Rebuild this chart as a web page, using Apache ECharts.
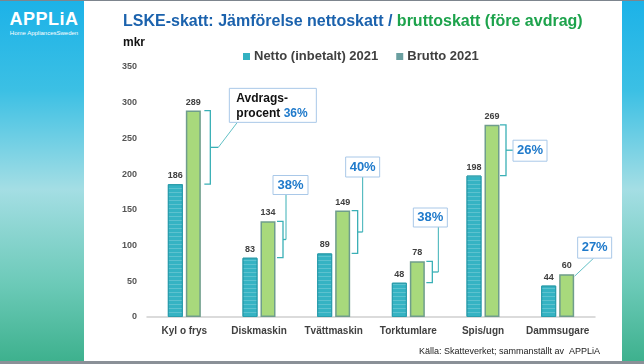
<!DOCTYPE html>
<html>
<head>
<meta charset="utf-8">
<script src="https://cdn.jsdelivr.net/npm/echarts@6/dist/echarts.min.js"></script>
<style>
  html, body { margin: 0; padding: 0; width: 644px; height: 364px; overflow: hidden; background: #ffffff; font-family: "Liberation Sans", Arial, sans-serif; }
  .side { position: absolute; top: 0; height: 364px; background: linear-gradient(to bottom, #1cb2e8 0%, #3cc0e4 25%, #a4dee4 52%, #6ccab8 78%, #3cb08c 100%); }
  #left { left: 0; width: 84px; }
  #right { left: 622px; width: 22px; }
  #topline { position: absolute; left: 0; top: 0; width: 644px; height: 1px; background: #7d858e; }
  #botline { position: absolute; left: 0; top: 361px; width: 644px; height: 3px; background: #8a9097; }
  #logo { position: absolute; left: 4px; top: 10px; width: 80px; color: #fff; text-align: center; }
  #logo .big { font: bold 18px "Liberation Sans", Arial, sans-serif; letter-spacing: 0.5px; line-height: 19px; }
  #logo .small { font: 6px "Liberation Sans", Arial, sans-serif; line-height: 8px; white-space: nowrap; }
  #chart { position: absolute; left: 0; top: 0; width: 644px; height: 364px; }
</style>
</head>
<body>
<div class="side" id="left"></div>
<div class="side" id="right"></div>
<div id="topline"></div>
<div id="botline"></div>
<div id="logo"><div class="big">APPLiA</div><div class="small">Home AppliancesSweden</div></div>
<div id="chart"></div>
<script>
// ---- data ----
const categories = ['Kyl o frys', 'Diskmaskin', 'Tvättmaskin', 'Torktumlare', 'Spis/ugn', 'Dammsugare'];
const nettoValues = [186, 83, 89, 48, 198, 44];
const bruttoValues = [289, 134, 149, 78, 269, 60];
const deductionPercent = ['36%', '38%', '40%', '38%', '26%', '27%'];
const yTicks = [0, 50, 100, 150, 200, 250, 300, 350];
const seriesNames = ['Netto (inbetalt) 2021', 'Brutto 2021'];

// ---- callout layout (annotation placement, relative to bracket anchor) ----
const calloutLayout = [
  { type: 'bracket', bx: 26, tick: 8, box: [11, -59, 87, 34], leader: 'diag', to: [19, -25] },
  { type: 'bracket', bx: 24, tick: 3, box: [-13, -64, 35, 19], leader: 'up' },
  { type: 'bracket', bx: 24, tick: 5, box: [-17, -75, 34, 20], leader: 'up' },
  { type: 'bracket', bx: 24, tick: 6, box: [-25, -64, 34, 19], leader: 'up' },
  { type: 'bracket', bx: 23, tick: 7, box: [0, -10, 34, 21], leader: 'none' },
  { type: 'leader', bx: 19, tick: 0, box: [3, -39, 34, 21], leader: 'diag', to: [19, -18] }
];

const chart = echarts.init(document.getElementById('chart'), null, { renderer: 'canvas' });

const labelStyle = { show: true, position: 'top', distance: 4, color: '#404040', fontWeight: 'bold', fontSize: 9, fontFamily: 'Liberation Sans' };

chart.setOption({
  backgroundColor: 'transparent',
  animation: false,
  title: {
    left: 118, top: 9,
    text: '{b|LSKE-skatt: Jämförelse nettoskatt / }{g|bruttoskatt (före avdrag)}',
    textStyle: {
      rich: {
        b: { color: '#1b62ad', fontWeight: 'bold', fontSize: 16, fontFamily: 'Liberation Sans' },
        g: { color: '#1da34c', fontWeight: 'bold', fontSize: 16, fontFamily: 'Liberation Sans' }
      }
    }
  },
  legend: {
    left: 238, top: 45,
    icon: 'rect', itemWidth: 7, itemHeight: 7, itemGap: 18,
    textStyle: { color: '#404040', fontWeight: 'bold', fontSize: 13, fontFamily: 'Liberation Sans', padding: [0, 0, 0, -1] },
    data: [
      { name: seriesNames[0], itemStyle: { color: '#33b1c1', borderWidth: 0, decal: 'none' } },
      { name: seriesNames[1], itemStyle: { color: '#6a9fa0', borderWidth: 0, decal: 'none' } }
    ]
  },
  grid: { left: 147, top: 67, width: 448, height: 250, containLabel: false },
  xAxis: {
    type: 'category',
    data: categories,
    axisLine: { lineStyle: { color: '#d0d0d0', width: 1.5 } },
    axisTick: { show: false },
    axisLabel: { interval: 0, color: '#404040', fontWeight: 'bold', fontSize: 10, fontFamily: 'Liberation Sans', margin: 9 }
  },
  yAxis: {
    type: 'value',
    min: yTicks[0], max: yTicks[yTicks.length - 1], interval: 50,
    splitLine: { show: false },
    axisLine: { show: false },
    axisTick: { show: false },
    axisLabel: { color: '#555555', fontWeight: 'bold', fontSize: 9, fontFamily: 'Liberation Sans', margin: 10 }
  },
  series: [
    {
      name: seriesNames[0], type: 'bar', data: nettoValues, barWidth: 15, barGap: '20%',
      itemStyle: {
        color: '#35b3c3', borderColor: '#2a9cab', borderWidth: 1,
        decal: { symbol: 'rect', symbolSize: 1, dashArrayX: [[1, 0]], dashArrayY: [1, 3], rotation: 0, color: 'rgba(255,255,255,0.2)' }
      },
      label: labelStyle
    },
    {
      name: seriesNames[1], type: 'bar', data: bruttoValues, barWidth: 15,
      itemStyle: { color: '#a8d97c', borderColor: '#6f9d8c', borderWidth: 1.5 },
      label: labelStyle
    }
  ]
});

// ---- annotations computed from the chart's own scales ----
const bracketColor = '#3ab0b6';
const elements = [];
elements.push({ type: 'text', left: 123, top: 37, style: { text: 'mkr', fill: '#111', font: 'bold 12px "Liberation Sans"' } });
elements.push({ type: 'text', right: 44, top: 347, style: { text: 'Källa: Skatteverket; sammanställt av  APPLiA', fill: '#222', font: '9px "Liberation Sans"' } });

categories.forEach((cat, i) => {
  const L = calloutLayout[i];
  const pTop = chart.convertToPixel({ gridIndex: 0 }, [cat, bruttoValues[i]]);
  const pBot = chart.convertToPixel({ gridIndex: 0 }, [cat, nettoValues[i]]);
  const cx = pTop[0];
  const bx = cx + L.bx;
  let ax, ay;
  if (L.type === 'bracket') {
    const yT = pTop[1], yB = pBot[1], yM = (yT + yB) / 2;
    elements.push({ type: 'polyline', shape: { points: [[bx - 6, yT], [bx, yT], [bx, yB], [bx - 6, yB]] }, style: { stroke: bracketColor, lineWidth: 1.3, fill: null } });
    elements.push({ type: 'line', shape: { x1: bx, y1: yM, x2: bx + L.tick, y2: yM }, style: { stroke: bracketColor, lineWidth: 1.3 } });
    ax = bx + L.tick; ay = yM;
  } else {
    ax = bx - 2; ay = pTop[1] + 2;
  }
  const bxl = ax + L.box[0], byt = ay + L.box[1], bw = L.box[2], bh = L.box[3];
  if (L.leader === 'up') {
    elements.push({ type: 'line', shape: { x1: ax, y1: ay, x2: ax, y2: byt + bh }, style: { stroke: bracketColor, lineWidth: 1 } });
  } else if (L.leader === 'diag') {
    elements.push({ type: 'line', shape: { x1: ax, y1: ay, x2: ax + L.to[0], y2: ay + L.to[1] }, style: { stroke: bracketColor, lineWidth: 0.8 } });
  }
  elements.push({ type: 'rect', shape: { x: bxl, y: byt, width: bw, height: bh }, style: { fill: '#fff', stroke: '#a9c8e8', lineWidth: 1 } });
  if (i === 0) {
    elements.push({ type: 'text', x: bxl + 7, y: byt + 3, style: {
      text: '{k|Avdrags-}\n{k|procent }{p|' + deductionPercent[i] + '}',
      rich: { k: { fill: '#111', font: 'bold 12px "Liberation Sans"', lineHeight: 15 }, p: { fill: '#1f7acb', font: 'bold 12px "Liberation Sans"', lineHeight: 15 } }
    } });
  } else {
    elements.push({ type: 'text', x: bxl + bw / 2, y: byt + bh / 2, style: { text: deductionPercent[i], fill: '#1f7acb', font: 'bold 13px "Liberation Sans"', align: 'center', verticalAlign: 'middle' } });
  }
});

chart.setOption({ graphic: { elements: elements } });
</script>
</body>
</html>
